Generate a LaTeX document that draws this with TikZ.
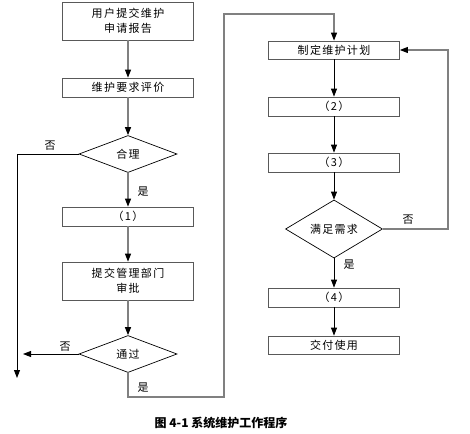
\documentclass[tikz,border=0pt]{standalone}
\usepackage{fontspec}
\setmainfont{Noto Sans CJK SC}[LetterSpace=12]
\newfontfamily\capfont{Noto Sans CJK SC}
\usetikzlibrary{shapes.geometric,arrows.meta}
\begin{document}
\begin{tikzpicture}[x=1pt,y=-1pt,
  box/.style={draw=black!65,line width=0.8pt,rectangle,minimum width=131pt,inner sep=0pt,font=\fontsize{11}{15}\selectfont,align=center},
  dia/.style={draw=black,line width=0.7pt,diamond,minimum width=98pt,minimum height=37pt,inner sep=0pt,font=\fontsize{11}{15}\selectfont},
  gline/.style={draw=black!50,line width=1.1pt},
  bline/.style={draw=black,line width=0.9pt},
  arr/.style={-{Triangle[length=8pt,width=6pt,color=black]}},
  lbl/.style={font=\fontsize{11}{15}\selectfont,inner sep=0pt}]
\useasboundingbox (0,0) rectangle (470,433);
% left column
\node[box,minimum height=38pt] (b1) at (128,21) {用户提交维护\\申请报告};
\node[box,minimum height=19pt] (b2) at (128,87.5) {维护要求评价};
\node[dia] (d1) at (128,154) {合理};
\node[box,minimum height=19pt] (b3) at (128,216.5) {（1）};
\node[box,minimum height=38pt] (b4) at (128,281) {提交管理部门\\审批};
\node[dia] (d2) at (128,354) {通过};
% right column
\node[box,minimum height=18pt] (r1) at (334,50) {制定维护计划};
\node[box,minimum height=19pt] (r2) at (334,106.5) {（2）};
\node[box,minimum height=19pt] (r3) at (334,162.5) {（3）};
\node[dia,minimum width=97pt,minimum height=38pt] (d3) at (334,229) {满足需求};
\node[box,minimum height=19pt] (r4) at (334,297.5) {（4）};
\node[box,minimum height=18pt] (r5) at (334,345) {交付使用};
% coordinates
\coordinate (n1a) at (17,154);
\coordinate (n1b) at (17,378);
\coordinate (n2) at (23,354);
\coordinate (y1) at (128,397);
\coordinate (y2) at (224,397);
\coordinate (y3) at (224,14);
\coordinate (y4) at (334,14);
\coordinate (f1) at (448,229);
\coordinate (f2) at (448,50);
% connectors
\draw[gline,arr] (b1) -- (b2);
\draw[gline,arr] (b2) -- (d1);
\draw[bline,arr] (d1.west) -- (n1a) -- (n1b);
\draw[gline,arr] (d1) -- (b3);
\draw[gline,arr] (b3) -- (b4);
\draw[gline,arr] (b4) -- (d2);
\draw[bline,arr] (d2.west) -- (n2);
\draw[gline,arr] (d2.south) -- (y1) -- (y2) -- (y3) -- (y4) -- (r1.north);
\draw[bline,arr] (r1) -- (r2);
\draw[bline,arr] (r2) -- (r3);
\draw[bline,arr] (r3) -- (d3);
\draw[bline,arr] (d3) -- (r4);
\draw[bline,arr] (r4) -- (r5);
\draw[gline,arr] (d3.east) -- (f1) -- (f2) -- (r1.east);
% labels
\node[lbl] (l1) at (50,146) {否};
\node[lbl] (l2) at (143,192) {是};
\node[lbl] (l3) at (65,347) {否};
\node[lbl] (l4) at (143,388) {是};
\node[lbl] (l5) at (349,265) {是};
\node[lbl] (l6) at (408,220) {否};
\node[inner sep=0pt,font=\capfont\bfseries\fontsize{12}{15}\selectfont] (cap) at (221,423) {图 4-1 系统维护工作程序};
\end{tikzpicture}
\end{document}
